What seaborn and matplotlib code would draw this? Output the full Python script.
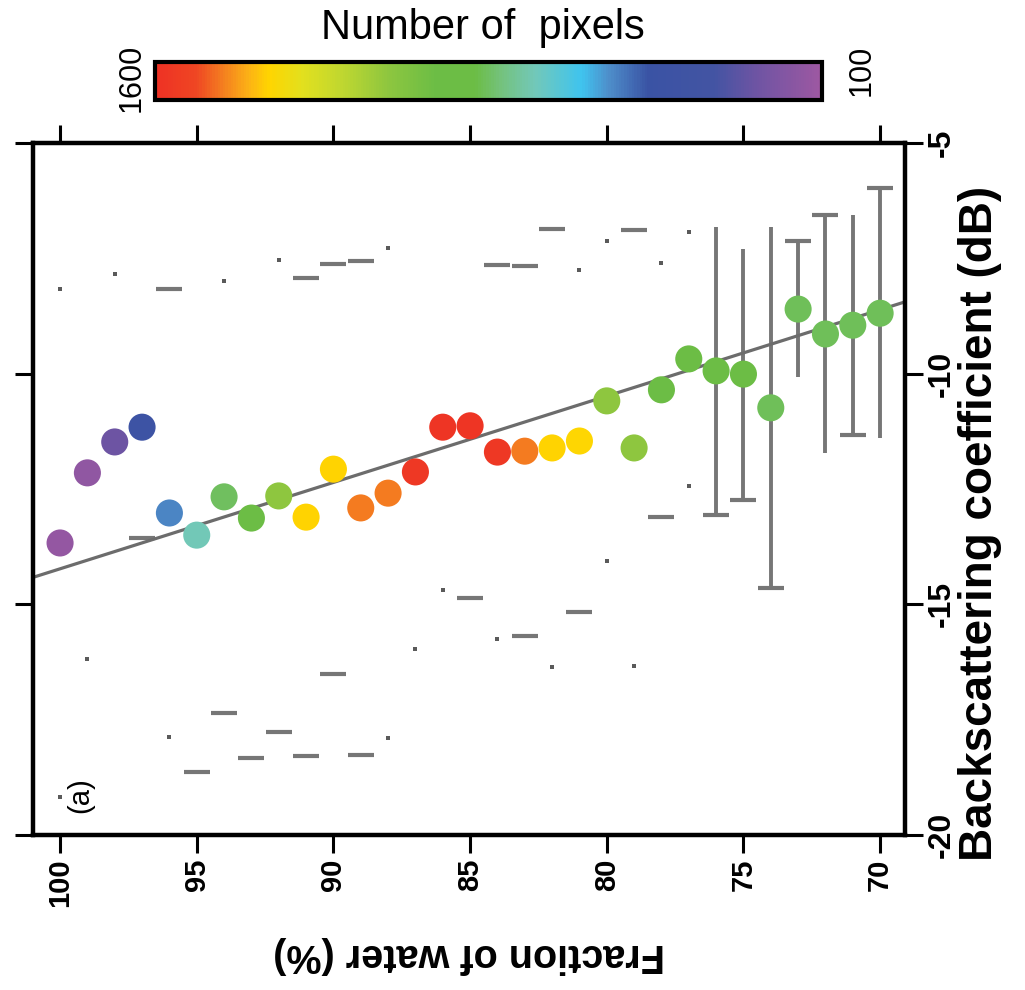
import numpy as np
import pandas as pd
import matplotlib
matplotlib.use("Agg")
import matplotlib.pyplot as plt
import seaborn as sns
from matplotlib.colors import LinearSegmentedColormap, Normalize
from matplotlib.cm import ScalarMappable

# ---------------- data ----------------
fraction = [100, 99, 98, 97, 96, 95, 94, 93, 92, 91, 90, 89, 88, 87, 86, 85,
            84, 83, 82, 81, 80, 79, 78, 77, 76, 75, 74, 73, 72, 71, 70]
backscatter = [-13.67, -12.15, -11.48, -11.16, -13.02, -13.50, -12.67, -13.13,
               -12.65, -13.11, -12.07, -12.91, -12.59, -12.13, -11.16, -11.13,
               -11.70, -11.68, -11.61, -11.46, -10.59, -11.61, -10.35, -9.68,
               -9.94, -10.01, -10.74, -8.60, -9.14, -8.95, -8.69]
std_dev = [5.51, 4.03, 3.64, 2.41, 4.86, 5.14, 4.68, 5.20, 5.12, 5.18, 4.44,
           5.35, 5.31, 3.84, 3.53, 3.73, 4.05, 4.01, 4.75, 3.71, 3.47, 4.73,
           2.75, 2.75, 3.13, 2.72, 3.91, 1.48, 2.58, 2.38, 2.71]
pixels = [130, 145, 250, 445, 565, 745, 850, 940, 1075, 1345, 1345, 1450, 1450,
          1570, 1580, 1580, 1570, 1450, 1345, 1340, 1075, 1075, 950, 950, 950,
          950, 860, 860, 860, 860, 860]
fit_slope = -0.1872
fit_intercept = 4.49
x_ticks = [100, 95, 90, 85, 80, 75, 70]
y_ticks = [-20, -15, -10, -5]
pix_min, pix_max = 100, 1600

# ---------------- style: which error-bar parts are visible ----------------
# 0 = not visible, 1 = dot, 2 = dash
cap_upper = [1, 0, 1, 0, 2, 0, 1, 0, 1, 2, 2, 2, 1, 0, 0, 0,
             2, 2, 2, 1, 1, 2, 1, 1, 0, 0, 0, 2, 2, 0, 2]
cap_lower = [1, 1, 0, 2, 1, 2, 2, 2, 2, 2, 2, 2, 1, 1, 1, 2,
             1, 2, 1, 2, 1, 1, 2, 1, 2, 2, 2, 0, 0, 2, 0]
stem_visible = [False] * 24 + [True] * 7

cmap_colors = [(0.00, "#EE3124"), (0.06, "#EF4623"), (0.10, "#F47E20"),
               (0.14, "#FCB315"), (0.17, "#FFD500"), (0.22, "#E2E01E"),
               (0.28, "#BFD730"), (0.35, "#8DC63F"), (0.42, "#6CBD45"),
               (0.48, "#6CBD45"), (0.52, "#74C27E"), (0.57, "#72C8B9"),
               (0.64, "#3FC4EF"), (0.68, "#4E8FCB"), (0.74, "#3A53A4"),
               (0.84, "#4354A3"), (0.90, "#6C54A3"), (1.00, "#9E58A2")]
# stops above run from 1600 (left) to 100 (right); build a cmap low->high
cmap = LinearSegmentedColormap.from_list(
    "pix", [(1 - p, c) for p, c in reversed(cmap_colors)])
norm = Normalize(vmin=pix_min, vmax=pix_max)

df = pd.DataFrame({"fraction": fraction, "backscatter": backscatter,
                   "std": std_dev, "pixels": pixels})

sns.set_theme(style="white")
plt.rcParams["font.family"] = ["Liberation Sans", "DejaVu Sans"]
plt.rcParams["axes.unicode_minus"] = False
for k in ("text.color", "axes.labelcolor", "xtick.color", "ytick.color",
          "xtick.labelcolor", "ytick.labelcolor"):
    plt.rcParams[k] = "black"

fig = plt.figure(figsize=(10.25, 9.9), dpi=100)
ax = fig.add_axes([33 / 1025, 1 - 835 / 990, 872 / 1025, 692 / 990])

grey = "#767676"
# fit line
xs = np.array([102.0, 68.0])
ax.plot(xs, fit_intercept + fit_slope * xs, color="#6c6c6c", lw=2.3, zorder=2)

# error bar stems
for f, y, e, s in zip(df.fraction, df.backscatter, df["std"], stem_visible):
    if s:
        ax.vlines(f, y - e, y + e, color=grey, lw=2.8, zorder=1)

# error bar caps
hi = df.backscatter + df["std"]
lo = df.backscatter - df["std"]
for vals, codes in ((hi, cap_upper), (lo, cap_lower)):
    codes = np.array(codes)
    ax.scatter(df.fraction[codes == 2], vals[codes == 2], marker="_",
               s=19 ** 2, linewidths=3.0, color=grey, zorder=1)
    ax.scatter(df.fraction[codes == 1], vals[codes == 1], marker="s",
               s=3.2 ** 2, linewidths=0, color="#5a5a5a", zorder=1)

sns.scatterplot(data=df, x="fraction", y="backscatter", hue="pixels",
                palette=cmap, hue_norm=norm, s=380, linewidth=0,
                legend=False, ax=ax, zorder=3)

ax.set_xlim(100.99, 69.09)
ax.set_ylim(-20, -5)
ax.set_xticks(x_ticks)
ax.set_yticks(y_ticks)
ax.set_xticklabels([str(v) for v in x_ticks])
ax.set_yticklabels([str(v) for v in y_ticks])

ax.tick_params(axis="x", direction="out", length=13, width=2.2, top=True,
               bottom=True, labelbottom=True, labeltop=False,
               labelrotation=90, labelsize=21, pad=4, color="black")
ax.tick_params(axis="y", direction="out", length=13, width=2.2, left=True,
               right=True, labelleft=False, labelright=True,
               labelrotation=90, labelsize=23, pad=3, color="black")
for lab in ax.get_xticklabels() + ax.get_yticklabels():
    lab.set_fontweight("bold")
for lab in ax.get_yticklabels():
    lab.set_verticalalignment("center")

for sp in ax.spines.values():
    sp.set_linewidth(3.2)
    sp.set_color("black")

ax.set_xlabel("Fraction of water (%)", rotation=180, fontsize=28.5,
              fontweight="bold", va="center", ha="center")
ax.xaxis.set_label_coords(0.5, (835 - 955) / 692)
ax.yaxis.set_label_position("right")
ax.set_ylabel("Backscattering coefficient (dB)", rotation=90, fontsize=33,
              fontweight="bold", va="center", ha="center")
ax.yaxis.set_label_coords((980 - 33) / 872, (835 - 523) / 692)

ax.text(0.054, 0.058, "(a)", transform=ax.transAxes, rotation=90,
        fontsize=21, ha="center", va="center")

# colour bar
cax = fig.add_axes([155 / 1025, 1 - 100 / 990, 667 / 1025, 38 / 990])
cb = fig.colorbar(ScalarMappable(norm=norm, cmap=cmap), cax=cax,
                  orientation="horizontal")
cax.invert_xaxis()
cb.set_ticks([])
cb.outline.set_linewidth(3)
cb.outline.set_edgecolor("black")
cax.text(-0.035, 0.58, str(pix_max), transform=cax.transAxes, rotation=90,
         ha="center", va="center", fontsize=22)
cax.text(1.06, 0.79, str(pix_min), transform=cax.transAxes, rotation=90,
         ha="center", va="center", fontsize=22)
fig.text(483 / 1025, 1 - 28 / 990, "Number of  pixels", ha="center",
         va="center", fontsize=30)

fig.savefig("out.png", dpi=100, facecolor="white")
